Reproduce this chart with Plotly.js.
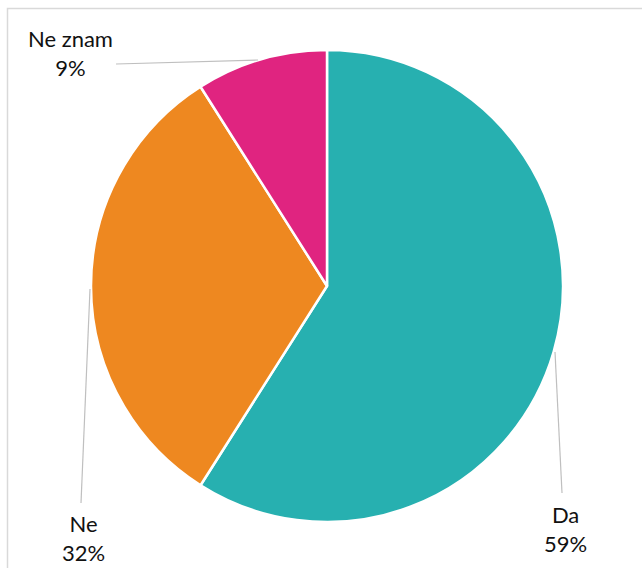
<!DOCTYPE html>
<html>
<head>
<meta charset="utf-8">
<script src="https://cdn.plot.ly/plotly-3.0.1.min.js"></script>
<style>html,body{margin:0;padding:0;background:#fff;}#chart{width:642px;height:568px;}</style>
</head>
<body>
<div id="chart"></div>
<script>
const categories = ["Da", "Ne", "Ne znam"];
const values = [59, 32, 9];
const colors = ["#27B0B0", "#EE8820", "#E02480"];

const W = 642, H = 568;
const px = x => x / W;
const py = y => 1 - y / H;

const labelFont = {family: "Lato, 'Open Sans', sans-serif", size: 22, color: "#111"};
const labelPos = {
  "Da": [565, 529],
  "Ne": [84, 538],
  "Ne znam": [70, 53]
};
const leaders = [
  [[116, 64], [258, 60]],
  [[90, 289], [81, 503]],
  [[555, 352], [562, 493]]
];

const total = values.reduce((a, b) => a + b, 0);
const annotations = categories.map((c, i) => ({
  text: c + "<br>" + Math.round(values[i] / total * 100) + "%",
  x: px(labelPos[c][0]), y: py(labelPos[c][1]),
  xref: "paper", yref: "paper", showarrow: false,
  xanchor: "center", yanchor: "middle", font: labelFont, align: "center"
}));

const shapes = leaders.map(l => ({
  type: "line", xref: "paper", yref: "paper",
  x0: px(l[0][0]), y0: py(l[0][1]), x1: px(l[1][0]), y1: py(l[1][1]),
  line: {color: "#BFBFBF", width: 1.2}
}));
shapes.push({
  type: "rect", xref: "paper", yref: "paper",
  x0: px(7.5), y0: -0.2, x1: 1.2, y1: py(8.5),
  line: {color: "#D9D9D9", width: 1.5}, fillcolor: "rgba(0,0,0,0)"
});

Plotly.newPlot("chart", [{
  type: "pie",
  labels: categories,
  values: values,
  sort: false,
  direction: "clockwise",
  rotation: 0,
  textinfo: "none",
  hoverinfo: "label+percent",
  marker: {colors: colors, line: {color: "#FFFFFF", width: 2.5}},
  domain: {x: [px(91), px(563)], y: [py(522), py(50)]}
}], {
  width: W, height: H,
  margin: {l: 0, r: 0, t: 0, b: 0},
  showlegend: false,
  paper_bgcolor: "#FFFFFF",
  annotations: annotations,
  shapes: shapes
}, {staticPlot: true});
</script>
</body>
</html>
